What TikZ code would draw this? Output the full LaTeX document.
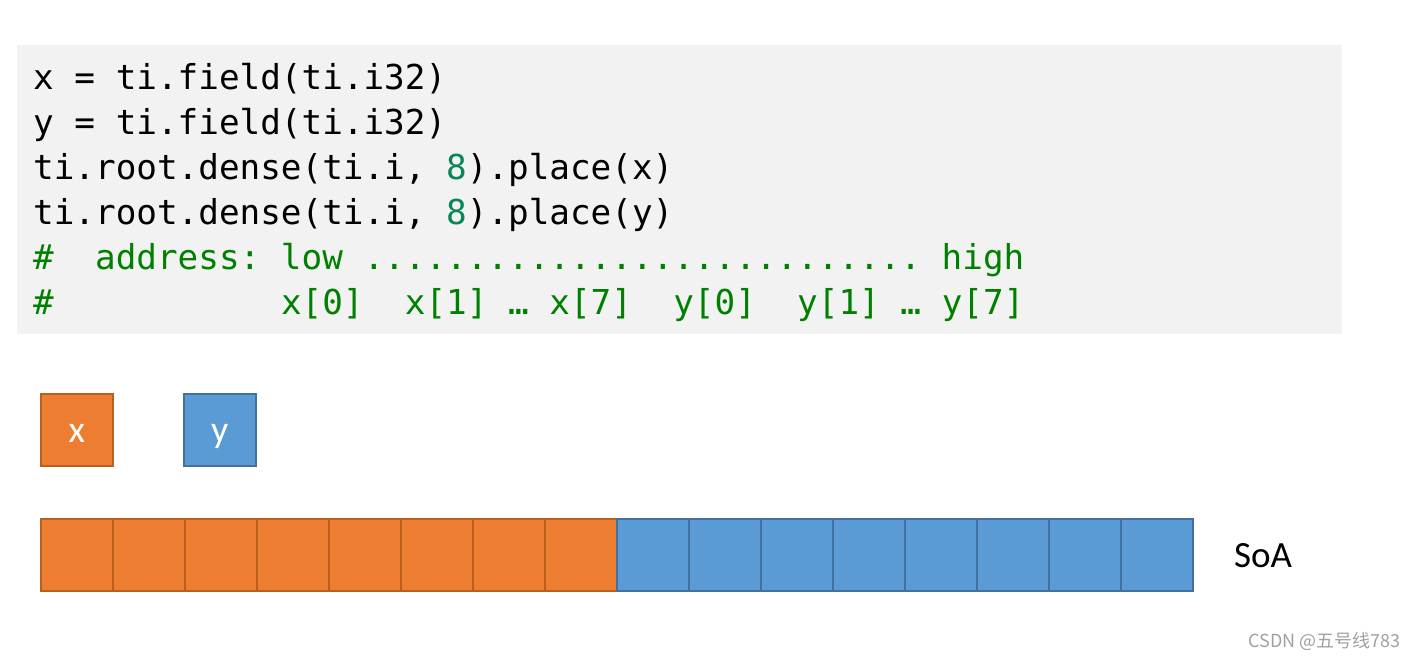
\documentclass[tikz,border=0pt]{standalone}
\usepackage{fontspec}
\newfontfamily\codefont{DejaVu Sans Mono}
\newfontfamily\calfont{Carlito}
\newfontfamily\cjk{Noto Sans CJK SC}
\definecolor{codebg}{HTML}{F2F2F2}
\definecolor{numcol}{HTML}{098658}
\definecolor{comcol}{HTML}{008000}
\definecolor{orfill}{HTML}{ED7D31}
\definecolor{ordraw}{HTML}{B9601F}
\definecolor{blfill}{HTML}{5B9BD5}
\definecolor{bldraw}{HTML}{41719C}
\definecolor{wmark}{HTML}{A0A0A0}
\begin{document}
\begin{tikzpicture}[x=1pt,y=-1pt,
  code/.style={anchor=base west,inner sep=0pt,font=\codefont\fontsize{34.3}{45}\selectfont},
  cell/.style={minimum width=72pt,minimum height=72pt,inner sep=0pt,line width=1.5pt,anchor=north west},
  ocell/.style={cell,fill=orfill,draw=ordraw},
  bcell/.style={cell,fill=blfill,draw=bldraw},
  boxlabel/.style={text=white,font=\calfont\fontsize{38}{42}\selectfont}]
\useasboundingbox (0,0) rectangle (1416,659);
\fill[codebg] (17,45) rectangle (1342,334);
\node[code] (l1) at (33,89) {x = ti.field(ti.i32)};
\node[code] (l2) at (33,134) {y = ti.field(ti.i32)};
\node[code] (l3) at (33,179) {ti.root.dense(ti.i, \textcolor{numcol}{8}).place(x)};
\node[code] (l4) at (33,224) {ti.root.dense(ti.i, \textcolor{numcol}{8}).place(y)};
\node[code,text=comcol] (l5) at (33,269) {\#\phantom{00}address:\phantom{0}low\phantom{0}...........................\phantom{0}high};
\node[code,text=comcol] (l6) at (33,314) {\#\phantom{00000000000}x[0]\phantom{00}x[1]\phantom{0}…\phantom{0}x[7]\phantom{00}y[0]\phantom{00}y[1]\phantom{0}…\phantom{0}y[7]};
\node[ocell] (bx) at (40,393) {};
\node[boxlabel,anchor=base] at ([yshift=-13pt]bx.center) {x};
\node[bcell] (by) at (183,393) {};
\node[boxlabel,anchor=base] at ([yshift=-13pt]by.center) {y};
\foreach \i in {0,...,7} {
  \node[ocell] (c\i) at (40+72*\i,518) {};
}
\foreach \i in {8,...,15} {
  \node[bcell] (c\i) at (40+72*\i,518) {};
}
\node[anchor=base west,inner sep=0pt,font=\calfont\fontsize{37}{44}\selectfont] (soa) at (1234,567) {SoA};
\node[anchor=base east,inner sep=0pt,text=wmark,font=\cjk\fontsize{18}{22}\selectfont] (wm) at (1401,647) {CSDN @五号线783};
\end{tikzpicture}
\end{document}
